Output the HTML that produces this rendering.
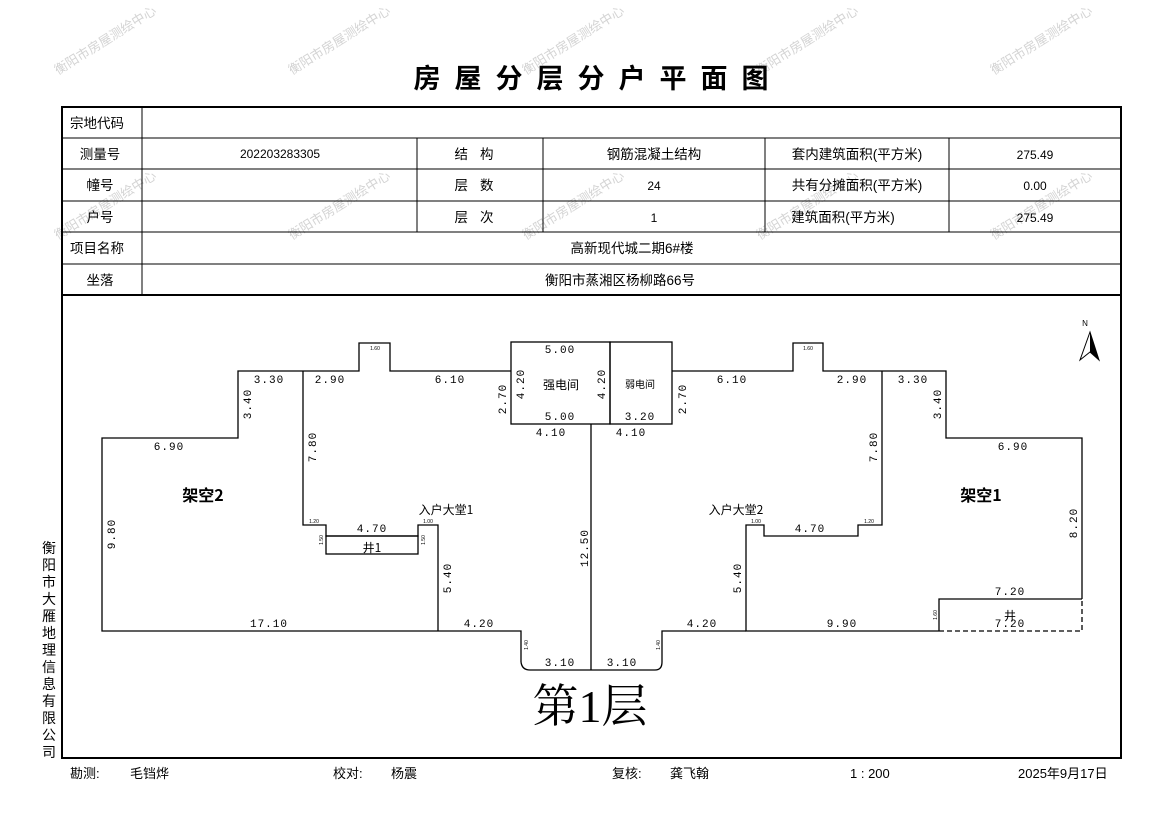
<!DOCTYPE html>
<html><head><meta charset="utf-8"><style>
html,body{margin:0;padding:0;background:#fff;}
body{width:1169px;height:827px;overflow:hidden;position:relative;font-family:"Liberation Sans","Noto Sans CJK SC",sans-serif;}
svg{position:absolute;left:0;top:0;}
</style></head><body>
<svg width="1169" height="827" viewBox="0 0 1169 827" xmlns="http://www.w3.org/2000/svg" font-family="Liberation Sans, Noto Sans CJK SC, sans-serif">
<g fill="#d4d4d4" font-size="13" font-family="Noto Sans CJK SC, sans-serif">
<text transform="translate(58,75) rotate(-32)">衡阳市房屋测绘中心</text>
<text transform="translate(292,75) rotate(-32)">衡阳市房屋测绘中心</text>
<text transform="translate(526,75) rotate(-32)">衡阳市房屋测绘中心</text>
<text transform="translate(760,75) rotate(-32)">衡阳市房屋测绘中心</text>
<text transform="translate(994,75) rotate(-32)">衡阳市房屋测绘中心</text>
<text transform="translate(58,240) rotate(-32)">衡阳市房屋测绘中心</text>
<text transform="translate(292,240) rotate(-32)">衡阳市房屋测绘中心</text>
<text transform="translate(526,240) rotate(-32)">衡阳市房屋测绘中心</text>
<text transform="translate(760,240) rotate(-32)">衡阳市房屋测绘中心</text>
<text transform="translate(994,240) rotate(-32)">衡阳市房屋测绘中心</text>
</g>
<text x="598" y="88" text-anchor="middle" font-size="27" font-weight="bold" letter-spacing="14" font-family="Noto Sans CJK SC, sans-serif">房屋分层分户平面图</text>
<g stroke="#000" fill="none">
<rect x="62" y="107" width="1059" height="651" stroke-width="2"/>
<line x1="62" y1="295" x2="1121" y2="295" stroke-width="2"/>
<g stroke-width="1">
<line x1="62" y1="138" x2="1121" y2="138"/>
<line x1="62" y1="169" x2="1121" y2="169"/>
<line x1="62" y1="201" x2="1121" y2="201"/>
<line x1="62" y1="232" x2="1121" y2="232"/>
<line x1="62" y1="264" x2="1121" y2="264"/>
<line x1="142" y1="107" x2="142" y2="295"/>
<line x1="417" y1="138" x2="417" y2="232"/>
<line x1="543" y1="138" x2="543" y2="232"/>
<line x1="765" y1="138" x2="765" y2="232"/>
<line x1="949" y1="138" x2="949" y2="232"/>
</g></g>
<g font-size="13.5" text-anchor="middle" fill="#000">
<text x="97" y="128">宗地代码</text>
<text x="100" y="159">测量号</text>
<text x="100" y="190">幢号</text>
<text x="100" y="222">户号</text>
<text x="97" y="253">项目名称</text>
<text x="100" y="285">坐落</text>
<text x="480" y="159" letter-spacing="12">结构</text>
<text x="480" y="190" letter-spacing="12">层数</text>
<text x="480" y="222" letter-spacing="12">层次</text>
<text x="654" y="159">钢筋混凝土结构</text>
<text x="857" y="159">套内建筑面积(平方米)</text>
<text x="857" y="190">共有分摊面积(平方米)</text>
<text x="843" y="222">建筑面积(平方米)</text>
<text x="632" y="253">高新现代城二期6#楼</text>
<text x="620" y="285">衡阳市蒸湘区杨柳路66号</text>
</g>
<g font-size="12" text-anchor="middle">
<text x="280" y="158">202203283305</text>
<text x="654" y="190">24</text>
<text x="654" y="222">1</text>
<text x="1035" y="159">275.49</text>
<text x="1035" y="190">0.00</text>
<text x="1035" y="222">275.49</text>
</g>
<g stroke="#000" stroke-width="1.3" fill="none">
<polyline points="511,371 390,371 390,343 359,343 359,371 238,371 238,438 102,438 102,631 521,631 521,662"/>
<path d="M521,662 Q522,670 530,670 L655,670 Q662,670 662,662 L662,631 L746,631"/>
<polyline points="303,371 303,525 326,525 326,536 418,536 418,525 438,525 438,631"/>
<rect x="326" y="536" width="92" height="18"/>
<rect x="511" y="342" width="99" height="82"/>
<rect x="610" y="342" width="62" height="82"/>
<line x1="591" y1="424" x2="591" y2="670"/>
<polyline points="672,371 793,371 793,343 823,343 823,371 946,371 946,438 1082,438 1082,599"/>
<polyline points="882,371 882,525 858,525 858,536 764,536 764,525 746,525 746,631 939,631"/>
<polyline points="939,631 939,599 1082,599"/>
<polyline points="939,631 1082,631 1082,599" stroke-dasharray="5,3"/>
</g>
<text x="1085" y="326" font-size="8" text-anchor="middle">N</text>
<polygon points="1090,332 1080,360 1090,352 1099,360" fill="none" stroke="#000"/>
<polygon points="1090,332 1090,352 1099,360" fill="#000"/>
<g font-size="11" text-anchor="middle" letter-spacing="1" font-family="Liberation Mono, monospace">
<text x="269" y="383">3.30</text><text x="330" y="383">2.90</text><text x="450" y="383">6.10</text>
<text x="169" y="450">6.90</text><text x="372" y="532">4.70</text>
<text x="269" y="627">17.10</text><text x="479" y="627">4.20</text><text x="560" y="666">3.10</text>
<text x="560" y="353">5.00</text><text x="560" y="420">5.00</text><text x="551" y="436">4.10</text>
<text x="640" y="420">3.20</text><text x="631" y="436">4.10</text>
<text x="732" y="383">6.10</text><text x="852" y="383">2.90</text><text x="913" y="383">3.30</text>
<text x="1013" y="450">6.90</text><text x="810" y="532">4.70</text>
<text x="702" y="627">4.20</text><text x="842" y="627">9.90</text>
<text x="1010" y="595">7.20</text><text x="1010" y="627">7.20</text><text x="622" y="666">3.10</text>
<text transform="translate(251,404) rotate(-90)">3.40</text>
<text transform="translate(316,447) rotate(-90)">7.80</text>
<text transform="translate(115,534) rotate(-90)">9.80</text>
<text transform="translate(451,578) rotate(-90)">5.40</text>
<text transform="translate(588,548) rotate(-90)">12.50</text>
<text transform="translate(524,384) rotate(-90)">4.20</text>
<text transform="translate(506,399) rotate(-90)">2.70</text>
<text transform="translate(605,384) rotate(-90)">4.20</text>
<text transform="translate(686,399) rotate(-90)">2.70</text>
<text transform="translate(941,404) rotate(-90)">3.40</text>
<text transform="translate(877,447) rotate(-90)">7.80</text>
<text transform="translate(1077,523) rotate(-90)">8.20</text>
<text transform="translate(741,578) rotate(-90)">5.40</text>
</g>
<g font-size="5" text-anchor="middle">
<text x="375" y="350">1.60</text><text x="808" y="350">1.60</text>
<text x="314" y="523">1.20</text><text x="428" y="523">1.00</text>
<text x="756" y="523">1.00</text><text x="869" y="523">1.20</text>
<text transform="translate(937,615) rotate(-90)">1.60</text>
<text transform="translate(323,540) rotate(-90)">1.50</text>
<text transform="translate(425,540) rotate(-90)">1.50</text>
<text transform="translate(528,645) rotate(-90)">1.40</text>
<text transform="translate(660,645) rotate(-90)">1.40</text>
</g>
<g font-family="Noto Sans CJK SC, sans-serif" text-anchor="middle">
<text x="203" y="501" font-size="16" font-weight="bold">架空2</text>
<text x="981" y="501" font-size="16" font-weight="bold">架空1</text>
<text x="446" y="514" font-size="12">入户大堂1</text>
<text x="736" y="514" font-size="12">入户大堂2</text>
<text x="372" y="552" font-size="12">井1</text>
<text x="1010" y="620" font-size="12">井</text>
<text x="561" y="389" font-size="12">强电间</text>
<text x="640" y="388" font-size="10">弱电间</text>
</g>
<text x="590" y="722" text-anchor="middle" font-size="46" font-family="Liberation Serif, Noto Serif CJK SC, serif">第1层</text>
<g font-size="14" text-anchor="middle" font-family="Noto Sans CJK SC, sans-serif">
<text x="49" y="553">衡</text><text x="49" y="570">阳</text><text x="49" y="587">市</text><text x="49" y="604">大</text><text x="49" y="621">雁</text><text x="49" y="638">地</text><text x="49" y="655">理</text><text x="49" y="672">信</text><text x="49" y="689">息</text><text x="49" y="706">有</text><text x="49" y="723">限</text><text x="49" y="740">公</text><text x="49" y="757">司</text>
</g>
<g font-size="13">
<text x="70" y="778">勘测:</text><text x="130" y="778">毛铛烨</text>
<text x="333" y="778">校对:</text><text x="391" y="778">杨震</text>
<text x="612" y="778">复核:</text><text x="670" y="778">龚飞翰</text>
<text x="850" y="778">1 : 200</text><text x="1018" y="778">2025年9月17日</text>
</g>
</svg>
</body></html>
